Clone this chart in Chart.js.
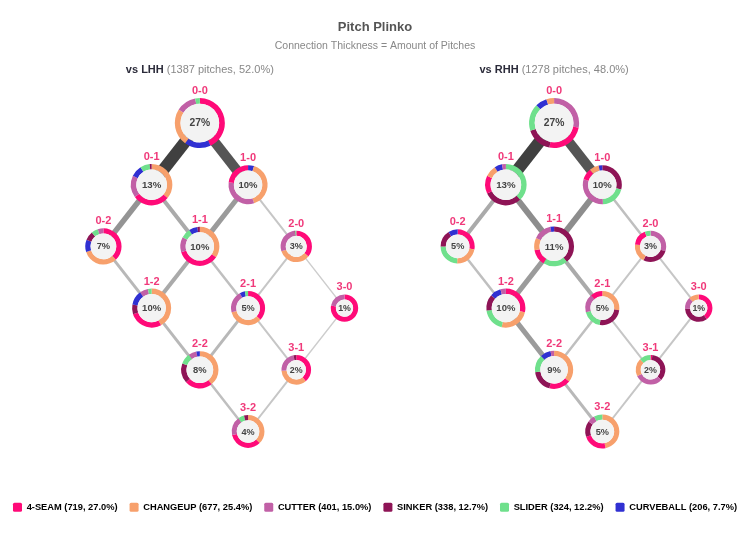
<!DOCTYPE html>
<html>
<head>
<meta charset="utf-8">
<title>Pitch Plinko</title>
<script src="https://cdn.jsdelivr.net/npm/chart.js@4.4.1/dist/chart.umd.min.js"></script>
<style>
  html, body { margin: 0; padding: 0; background: #fff; }
  #wrap { width: 750px; height: 536px; }
</style>
</head>
<body>
<div id="wrap"><canvas id="plinko" width="750" height="536"></canvas></div>
<script>
/* Pitch Plinko - count tree per batter side */

// pitch types (legend)
const pitchTypes = ["4-SEAM", "CHANGEUP", "CUTTER", "SINKER", "SLIDER", "CURVEBALL"];
const pitchTotals = [719, 677, 401, 338, 324, 206];
const pitchShares = [27.0, 25.4, 15.0, 12.7, 12.2, 7.7];
const pitchColors = ["#ff0a78", "#f7a06c", "#c160a6", "#8e1456", "#6fe08c", "#3030d2"];

// panels
const panelNames = ["vs LHH", "vs RHH"];
const panelPitches = [1387, 1278];
const panelShares = [52.0, 48.0];

// counts (balls-strikes)
const counts = ["0-0", "0-1", "1-0", "0-2", "1-1", "2-0", "1-2", "2-1", "3-0", "2-2", "3-1", "3-2"];
const lhhPct = [27, 13, 10, 7, 10, 3, 10, 5, 1, 8, 2, 4];
const rhhPct = [27, 13, 10, 5, 11, 3, 10, 5, 1, 9, 2, 5];

// pitch mix per count: [pitch index, share], clockwise from 12 o'clock
const lhhMix = [
  [[0, .43], [5, .17], [1, .24], [2, .13], [4, .03]],
  [[1, .36], [0, .29], [2, .17], [5, .09], [4, .075], [3, .015]],
  [[5, .05], [1, .40], [2, .32], [0, .23]],
  [[0, .38], [1, .32], [5, .11], [3, .08], [4, .06], [2, .05]],
  [[1, .34], [0, .355], [2, .125], [4, .08], [5, .07], [3, .02]],
  [[0, .36], [1, .34], [2, .28], [3, .01], [4, .01]],
  [[1, .42], [0, .28], [3, .08], [5, .12], [2, .07], [4, .03]],
  [[0, .37], [1, .34], [2, .21], [5, .05], [4, .03]],
  [[0, .78], [2, .22]],
  [[1, .39], [0, .24], [3, .17], [4, .095], [2, .07], [5, .03]],
  [[0, .39], [1, .35], [2, .23], [3, .03]],
  [[1, .375], [0, .34], [2, .185], [4, .06], [3, .04]],
];
const rhhMix = [
  [[2, .28], [0, .25], [3, .17], [4, .175], [5, .075], [1, .05]],
  [[4, .38], [3, .30], [0, .14], [1, .09], [5, .06], [2, .03]],
  [[3, .29], [4, .205], [2, .30], [0, .095], [1, .08], [5, .03]],
  [[0, .28], [1, .225], [4, .245], [3, .16], [5, .09]],
  [[3, .39], [4, .20], [0, .13], [1, .10], [2, .15], [5, .03]],
  [[2, .30], [3, .275], [1, .195], [0, .17], [4, .06]],
  [[0, .285], [1, .25], [4, .195], [3, .135], [5, .09], [2, .045]],
  [[1, .27], [3, .255], [4, .185], [2, .175], [0, .115]],
  [[0, .40], [3, .34], [2, .14], [1, .12]],
  [[1, .355], [0, .185], [3, .19], [4, .15], [5, .09], [2, .03]],
  [[0, .02], [3, .35], [2, .31], [1, .195], [4, .125]],
  [[1, .47], [0, .23], [3, .15], [2, .07], [4, .08]],
];

// connections between counts and pitches that travelled along them
const links = [
  ["0-0", "0-1"], ["0-0", "1-0"], ["0-1", "0-2"], ["0-1", "1-1"], ["1-0", "1-1"], ["1-0", "2-0"],
  ["0-2", "1-2"], ["1-1", "1-2"], ["1-1", "2-1"], ["2-0", "2-1"], ["2-0", "3-0"], ["1-2", "2-2"],
  ["2-1", "2-2"], ["2-1", "3-1"], ["3-0", "3-1"], ["2-2", "3-2"], ["3-1", "3-2"],
];
const lhhLinkPitches = [183, 150, 75, 50, 67, 17, 33, 50, 25, 17, 8, 33, 33, 17, 8, 25, 17];
const rhhLinkPitches = [183, 150, 50, 83, 83, 25, 25, 67, 50, 17, 17, 67, 25, 17, 17, 33, 17];

// layout (pixels)
const TOP_Y = 123, ROW_PX = 61.7, COL_PX = 49, PANEL_X = [197, 557];
const PANEL_GAP = (PANEL_X[1] - PANEL_X[0]) / COL_PX;
const HEADER_ROW = -0.86;
const FONT = "'Liberation Sans', Helvetica, Arial, sans-serif";

const pctByPanel = [lhhPct, rhhPct];
const mixByPanel = [lhhMix, rhhMix];
const linksByPanel = [lhhLinkPitches, rhhLinkPitches];

function countPoint(c, panel) {
  const [b, s] = c.split("-").map(Number);
  return { x: b - s + panel * PANEL_GAP, y: b + s };
}

function linkWidth(n) {
  return 1 + n * 0.06;
}

function linkColor(n) {
  const g = Math.round(Math.max(64, 212 - n * 0.85));
  return `rgb(${g},${g},${g})`;
}

function nodeRadius(pct) {
  return 11 + 2.7 * Math.sqrt(pct);
}

// datasets: links first, then one invisible node set per panel
const datasets = [];
panelNames.forEach((_, p) => {
  links.forEach(([a, b], i) => {
    const n = linksByPanel[p][i];
    datasets.push({
      type: "line",
      data: [countPoint(a, p), countPoint(b, p)],
      borderColor: linkColor(n),
      borderWidth: linkWidth(n),
      borderCapStyle: "butt",
      pointRadius: 0,
      fill: false,
      clip: false,
    });
  });
});
const nodeSetIndex = [];
panelNames.forEach((name, p) => {
  nodeSetIndex.push(datasets.length);
  datasets.push({
    type: "scatter",
    label: name,
    data: counts.map((c) => countPoint(c, p)),
    pointRadius: 0,
    clip: false,
  });
});

const donutPlugin = {
  id: "donuts",
  afterDatasetsDraw(chart) {
    const ctx = chart.ctx;
    const xs = chart.scales.x;
    const ys = chart.scales.y;

    panelNames.forEach((name, p) => {
      // panel header
      const hx = xs.getPixelForValue(p * PANEL_GAP);
      const hy = ys.getPixelForValue(HEADER_ROW);
      const rest = ` (${panelPitches[p]} pitches, ${panelShares[p].toFixed(1)}%)`;
      ctx.save();
      ctx.textBaseline = "middle";
      ctx.textAlign = "left";
      ctx.font = `bold 11px ${FONT}`;
      const w1 = ctx.measureText(name).width;
      ctx.font = `11px ${FONT}`;
      const w2 = ctx.measureText(rest).width;
      const x0 = hx - (w1 + w2) / 2;
      ctx.font = `bold 11px ${FONT}`;
      ctx.fillStyle = "#2b2b3a";
      ctx.fillText(name, x0, hy);
      ctx.font = `11px ${FONT}`;
      ctx.fillStyle = "#888";
      ctx.fillText(rest, x0 + w1, hy);
      ctx.restore();

      // count donuts
      const meta = chart.getDatasetMeta(nodeSetIndex[p]);
      counts.forEach((c, i) => {
        const pt = meta.data[i];
        const x = pt.x, y = pt.y;
        const pct = pctByPanel[p][i];
        const r = nodeRadius(pct);
        const ring = 4.2 + 0.06 * r;
        const mix = mixByPanel[p][i];
        const total = mix.reduce((s, m) => s + m[1], 0);

        ctx.save();
        let start = -Math.PI / 2;
        mix.forEach(([k, v]) => {
          const end = start + (v / total) * Math.PI * 2;
          ctx.beginPath();
          ctx.arc(x, y, r, start, end);
          ctx.arc(x, y, r - ring, end, start, true);
          ctx.closePath();
          ctx.fillStyle = pitchColors[k];
          ctx.fill();
          start = end;
        });
        ctx.beginPath();
        ctx.arc(x, y, r - ring, 0, Math.PI * 2);
        ctx.fillStyle = "#f3f3f3";
        ctx.fill();

        ctx.textAlign = "center";
        ctx.textBaseline = "middle";
        ctx.fillStyle = "#444";
        ctx.font = `bold ${(7 + r * 0.13).toFixed(1)}px ${FONT}`;
        ctx.fillText(`${pct}%`, x, y + 0.5);

        ctx.fillStyle = "#f0397a";
        ctx.font = `bold 11px ${FONT}`;
        ctx.fillText(c, x, y - r - 7);
        ctx.restore();
      });
    });
  },
};

Chart.defaults.font.family = FONT;

const chart = new Chart(document.getElementById("plinko"), {
  type: "scatter",
  data: { datasets },
  plugins: [donutPlugin],
  options: {
    responsive: false,
    animation: false,
    events: [],
    layout: { padding: { left: 0, right: 0, top: 0, bottom: 14 } },
    scales: {
      x: { type: "linear", display: false, min: -4, max: 11 },
      y: { type: "linear", display: false, reverse: true, min: -1, max: 6 },
    },
    plugins: {
      title: {
        display: true,
        text: "Pitch Plinko",
        color: "#555",
        font: { size: 13, weight: "bold" },
        padding: { top: 20, bottom: 4 },
      },
      subtitle: {
        display: true,
        text: "Connection Thickness = Amount of Pitches",
        color: "#888",
        font: { size: 10.5 },
        padding: { top: 0, bottom: 10 },
      },
      tooltip: { enabled: false },
      legend: {
        position: "bottom",
        labels: {
          boxWidth: 9,
          boxHeight: 9,
          padding: 12,
          color: "#555",
          font: { size: 9.3, weight: "bold" },
          generateLabels: () =>
            pitchTypes.map((t, i) => ({
              text: `${t} (${pitchTotals[i]}, ${pitchShares[i].toFixed(1)}%)`,
              fillStyle: pitchColors[i],
              strokeStyle: pitchColors[i],
              lineWidth: 0,
              borderRadius: 1.5,
              hidden: false,
            })),
        },
      },
    },
  },
});

// line the count grid up with the drawing area
const area = chart.chartArea;
chart.options.scales.x.min = -(PANEL_X[0] - area.left) / COL_PX;
chart.options.scales.x.max = (area.right - PANEL_X[0]) / COL_PX;
chart.options.scales.y.min = -(TOP_Y - area.top) / ROW_PX;
chart.options.scales.y.max = (area.bottom - TOP_Y) / ROW_PX;
chart.update();
</script>
</body>
</html>
